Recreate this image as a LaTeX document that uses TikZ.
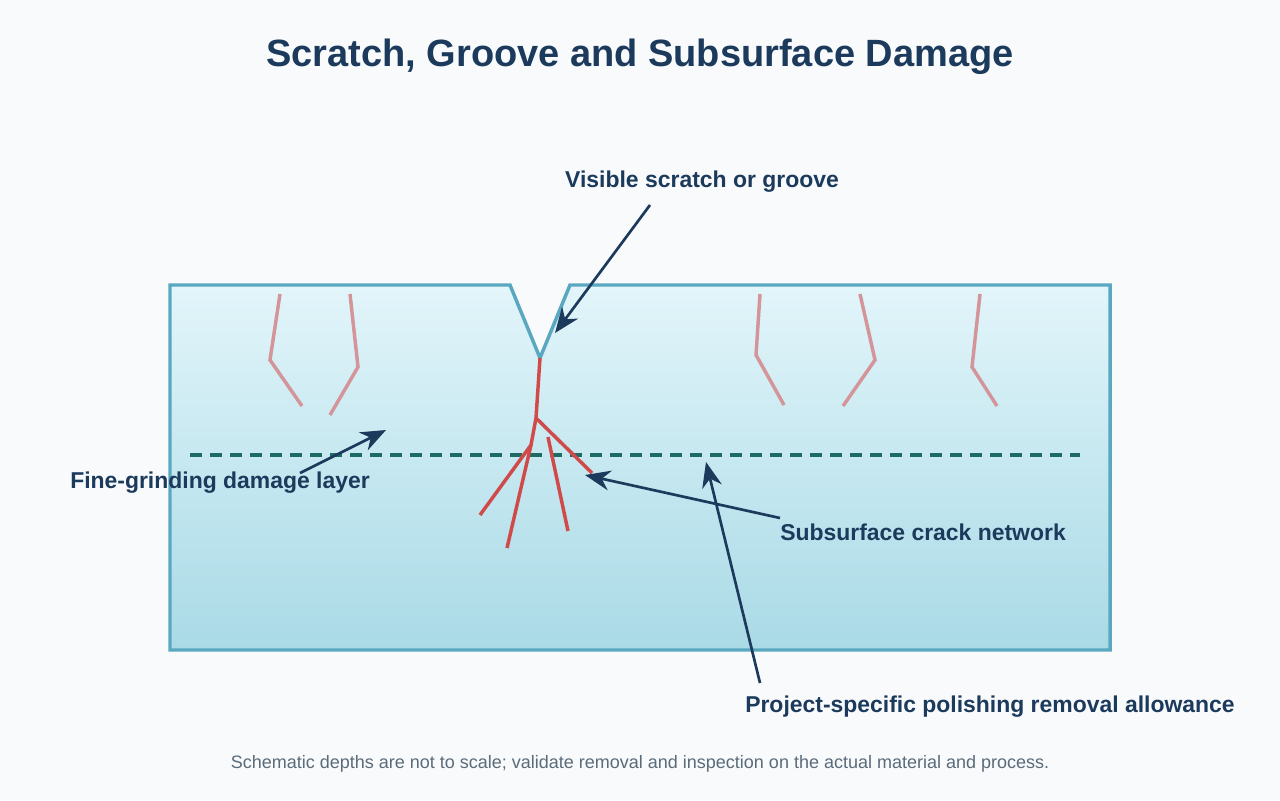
\documentclass[tikz,border=0pt]{standalone}
\usepackage{fontspec}
\setmainfont{Liberation Sans}
\usetikzlibrary{arrows.meta}
\definecolor{navy}{HTML}{1B3A5C}
\definecolor{edge}{HTML}{5AA8C0}
\definecolor{topc}{HTML}{E2F5FA}
\definecolor{botc}{HTML}{A9DAE6}
\definecolor{crack}{HTML}{D04A4A}
\definecolor{old}{HTML}{D4959A}
\definecolor{dashcol}{HTML}{1E6B63}
\definecolor{foot}{HTML}{5A6B7A}
\definecolor{bg}{HTML}{F8FAFC}
\begin{document}
\begin{tikzpicture}[x=0.75pt,y=-0.75pt,
  lbl/.style={font=\bfseries\fontsize{17.2}{20}\selectfont,text=navy,inner sep=0},
  arr/.style={navy,line width=2pt,-{Stealth[length=19pt,width=15pt]}},
  oldc/.style={old,line width=2.6pt},
  newc/.style={crack,line width=2.6pt}]
\useasboundingbox[fill=bg] (0,0) rectangle (1280,800);
\node[font=\bfseries\fontsize{28.5}{34}\selectfont,text=navy] (title) at (640,57) {Scratch, Groove and Subsurface Damage};
\shade[top color=topc,bottom color=botc] (170,285) -- (510,285) -- (540,358) -- (570,285) -- (1110,285) -- (1110,650) -- (170,650) -- cycle;
\draw[edge,line width=2.6pt,line join=miter] (170,285) -- (510,285) -- (540,358) -- (570,285) -- (1110,285) -- (1110,650) -- (170,650) -- cycle;
\draw[oldc] (280,294) -- (270,360) -- (302,406);
\draw[oldc] (350,294) -- (358,367) -- (330,415);
\draw[oldc] (760,294) -- (756,355) -- (784,405);
\draw[oldc] (860,294) -- (875,360) -- (843,406);
\draw[oldc] (980,294) -- (972,367) -- (997,406);
\draw[dashcol,line width=2.6pt,dash pattern=on 9pt off 6pt] (190,455) -- (1080,455);
\coordinate (tip) at (540,358);
\coordinate (j1) at (536,418);
\coordinate (j2) at (531,445);
\draw[newc] (tip) -- (j1) -- (j2) -- (480,515);
\draw[newc] (j2) -- (507,548);
\draw[newc] (j1) -- (592,473);
\draw[newc] (548,437) -- (568,531);
\node[lbl] (vis) at (702,182) {Visible scratch or groove};
\node[lbl,anchor=west] (fine) at (70,483) {Fine-grinding damage layer};
\node[lbl,anchor=west] (sub) at (780,532) {Subsurface crack network};
\node[lbl,anchor=west] (proj) at (745,707) {Project-specific polishing removal allowance};
\node[font=\fontsize{13.5}{16}\selectfont,text=foot] (note) at (640,764) {Schematic depths are not to scale; validate removal and inspection on the actual material and process.};
\coordinate (a1s) at (650,205); \coordinate (a1e) at (555,333);
\coordinate (a2s) at (300,473); \coordinate (a2e) at (386,430);
\coordinate (a3s) at (780,518); \coordinate (a3e) at (585,475);
\coordinate (a4s) at (760,683); \coordinate (a4e) at (706,462);
\draw[arr] (a1s) -- (a1e);
\draw[arr] (a2s) -- (a2e);
\draw[arr] (a3s) -- (a3e);
\draw[arr] (a4s) -- (a4e);
\end{tikzpicture}
\end{document}
